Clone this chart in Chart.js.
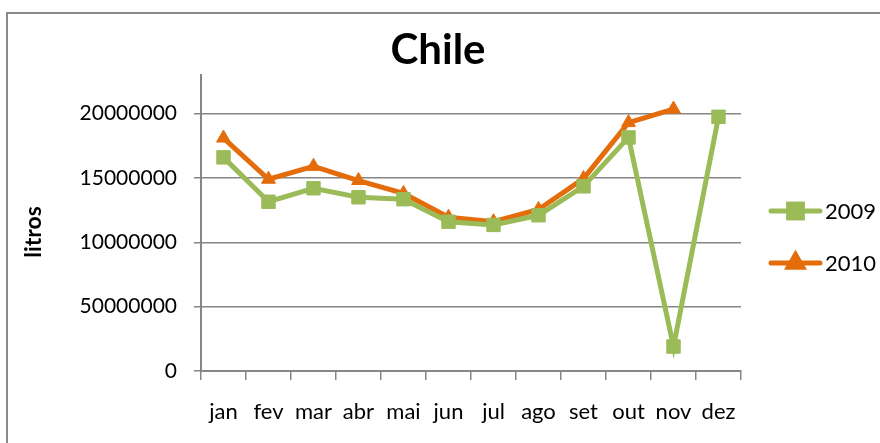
<!DOCTYPE html>
<html>
<head>
<meta charset="utf-8">
<script src="https://cdn.jsdelivr.net/npm/chart.js@4/dist/chart.umd.min.js"></script>
<style>
  html, body { margin: 0; padding: 0; background: #fff; }
  #wrap { width: 880px; height: 443px; position: relative; }
</style>
</head>
<body>
<div id="wrap"><canvas id="c" width="880" height="443"></canvas></div>
<script>
const months = ['jan', 'fev', 'mar', 'abr', 'mai', 'jun', 'jul', 'ago', 'set', 'out', 'nov', 'dez'];
const values2009 = [16600000, 13150000, 14200000, 13500000, 13350000, 11600000, 11350000, 12100000, 14350000, 18150000, 1900000, 19750000];
const values2010 = [18100000, 14900000, 15900000, 14800000, 13800000, 11950000, 11600000, 12550000, 14950000, 19300000, 20350000, null];
const yTickValues = [0, 5000000, 10000000, 15000000, 20000000];
const yTickLabels = ['0', '50000000', '10000000', '15000000', '20000000'];
const seriesNames = ['2009', '2010'];
const chartTitle = 'Chile';
const yAxisTitle = 'litros';

const GREEN = '#9BBB59';
const ORANGE = '#E46C0A';
const AXIS = '#868686';
const FONT = 'Lato, "Open Sans", sans-serif';

const framePlugin = {
  id: 'frame',
  beforeDraw(chart) {
    const ctx = chart.ctx;
    ctx.save();
    ctx.fillStyle = '#fff';
    ctx.fillRect(0, 0, chart.width, chart.height);
    ctx.strokeStyle = '#8a8a8a';
    ctx.lineWidth = 2;
    ctx.strokeRect(7, 13, 900, 460);
    ctx.restore();
  },
  afterDraw(chart) {
    const ctx = chart.ctx;
    // chart title
    ctx.save();
    ctx.font = 'bold 42px ' + FONT;
    ctx.fillStyle = '#000';
    ctx.textAlign = 'center';
    ctx.textBaseline = 'alphabetic';
    ctx.fillText(chartTitle, 438, 64);
    ctx.restore();

    // y axis title
    ctx.save();
    ctx.translate(34, 232);
    ctx.rotate(-Math.PI / 2);
    ctx.font = 'bold 23px ' + FONT;
    ctx.fillStyle = '#000';
    ctx.textAlign = 'center';
    ctx.textBaseline = 'middle';
    ctx.fillText(yAxisTitle, 0, 0);
    ctx.restore();

    // legend
    chart.data.datasets.forEach((ds, i) => {
      const y = 211 + i * 52;
      ctx.save();
      ctx.strokeStyle = ds.borderColor;
      ctx.lineWidth = 5;
      ctx.lineCap = 'round';
      ctx.beginPath();
      ctx.moveTo(771, y);
      ctx.lineTo(820, y);
      ctx.stroke();
      Chart.helpers.drawPoint(ctx, {
        pointStyle: ds.pointStyle,
        radius: ds.pointRadius,
        borderWidth: 1,
        rotation: 0
      }, 795.5, y);
      ctx.fillStyle = ds.pointBackgroundColor;
      ctx.strokeStyle = ds.pointBorderColor;
      ctx.fill();
      ctx.stroke();
      ctx.font = '22px ' + FONT;
      ctx.fillStyle = '#000';
      ctx.textAlign = 'left';
      ctx.textBaseline = 'middle';
      ctx.fillText(ds.label, 825, y + 1);
      ctx.restore();
    });
  }
};

new Chart(document.getElementById('c'), {
  type: 'line',
  data: {
    labels: months,
    datasets: [
      {
        label: seriesNames[0],
        data: values2009,
        borderColor: GREEN,
        backgroundColor: GREEN,
        pointBackgroundColor: GREEN,
        pointBorderColor: GREEN,
        borderWidth: 5,
        pointStyle: 'rect',
        pointRadius: 9.5,
        pointBorderWidth: 1,
        tension: 0,
        spanGaps: false
      },
      {
        label: seriesNames[1],
        data: values2010,
        borderColor: ORANGE,
        backgroundColor: ORANGE,
        pointBackgroundColor: ORANGE,
        pointBorderColor: ORANGE,
        borderWidth: 5,
        pointStyle: 'triangle',
        pointRadius: 8,
        pointBorderWidth: 1,
        tension: 0,
        spanGaps: false
      }
    ]
  },
  options: {
    responsive: false,
    animation: false,
    events: [],
    layout: { padding: { left: 0, right: 139, top: 75, bottom: 0 } },
    plugins: {
      legend: { display: false },
      tooltip: { enabled: false },
      title: { display: false }
    },
    scales: {
      x: {
        offset: true,
        grid: { offset: true, drawOnChartArea: false, drawTicks: true, tickLength: 9, color: AXIS, lineWidth: 1.5 },
        border: { color: AXIS, width: 2 },
        ticks: { color: '#000', font: { family: FONT, size: 22 }, padding: 19, maxRotation: 0, autoSkip: false },
        afterFit(s) { s.height = 72; }
      },
      y: {
        min: 0,
        max: 23000000,
        afterBuildTicks(s) { s.ticks = yTickValues.map(v => ({ value: v })); },
        grid: { color: AXIS, lineWidth: 1.5, tickLength: 7 },
        border: { color: AXIS, width: 2 },
        ticks: {
          color: '#000',
          font: { family: FONT, size: 21 },
          padding: 17,
          callback(value) { const k = yTickValues.indexOf(value); return k >= 0 ? yTickLabels[k] : ''; }
        },
        afterFit(s) { s.width = 201; }
      }
    }
  },
  plugins: [framePlugin]
});
</script>
</body>
</html>
